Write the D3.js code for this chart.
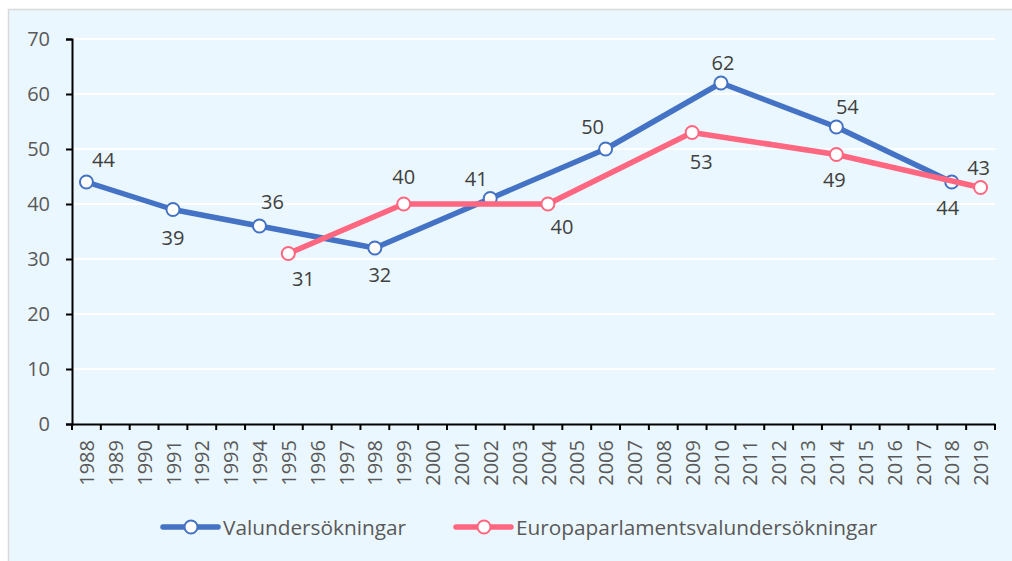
<html>
<head>
  <meta charset="utf-8">
  <script src="https://d3js.org/d3.v7.min.js"></script>
  <style>
    body { margin: 0; background: #fff; }
    text { font-family: "Open Sans", sans-serif; }
  </style>
</head>
<body>
  <div id="chart"></div>
  <script type="text/javascript">

    // data
    var years = d3.range(1988, 2020).map(String);
    var yTicks = [0, 10, 20, 30, 40, 50, 60, 70];
    var seriesNames = ['Valundersökningar', 'Europaparlamentsvalundersökningar'];
    var valYears = ['1988', '1991', '1994', '1998', '2002', '2006', '2010', '2014', '2018'];
    var valValues = [44, 39, 36, 32, 41, 50, 62, 54, 44];
    var euYears = ['1995', '1999', '2004', '2009', '2014', '2019'];
    var euValues = [31, 40, 40, 53, 49, 43];

    // label placement (offset of label centre from its point)
    var valLabelOffsets = [[17, -22], [0, 28], [13, -24], [5, 27], [-14, -20], [-13, -22], [2, -20], [11, -20], [-4, 26]];
    var euLabelOffsets = [[15, 25], [0, -27], [14, 23], [9, 29], [-2, 25], [-2, -20]];

    var colors = ['#4472C4', '#FF6680'];
    var W = 1012, H = 561;
    var plotL = 72, plotR = 995, plotT = 39, plotB = 424;

    var svg = d3.select('#chart').append('svg')
      .attr('width', W)
      .attr('height', H);

    svg.append('rect')
      .attr('x', 8.5).attr('y', 9.5)
      .attr('width', W).attr('height', H)
      .attr('fill', '#EBF7FE')
      .attr('stroke', '#D9D9D9')
      .attr('stroke-width', 1.5);

    var x = d3.scaleBand().domain(years).range([plotL, plotR]);
    var y = d3.scaleLinear().domain([0, 70]).range([plotB, plotT]);

    // gridlines
    svg.append('g')
      .selectAll('line')
      .data(yTicks.filter(function(d) { return d > 0; }))
      .enter().append('line')
        .attr('x1', plotL).attr('x2', plotR)
        .attr('y1', function(d) { return y(d); })
        .attr('y2', function(d) { return y(d); })
        .attr('stroke', '#fff')
        .attr('stroke-width', 2);

    // y axis
    var yAxis = svg.append('g')
      .attr('transform', 'translate(' + plotL + ',0)')
      .call(d3.axisLeft(y).tickValues(yTicks).tickSize(6).tickPadding(16));
    yAxis.select('.domain').attr('stroke', '#000').attr('stroke-width', 2);
    yAxis.selectAll('.tick line').attr('stroke', '#000').attr('stroke-width', 2);
    yAxis.selectAll('.tick text')
      .attr('fill', '#595959')
      .style('font-size', '20px');

    // x axis
    var xAxis = svg.append('g')
      .attr('transform', 'translate(0,' + plotB + ')')
      .call(d3.axisBottom(x).tickSize(0));
    xAxis.select('.domain').attr('stroke', '#000').attr('stroke-width', 2);
    xAxis.selectAll('.tick line').remove();
    xAxis.selectAll('.tick text')
      .attr('fill', '#595959')
      .style('font-size', '20px')
      .attr('transform', 'rotate(-90)')
      .attr('text-anchor', 'end')
      .attr('dy', '0.38em')
      .attr('y', 0)
      .attr('x', -16);

    // ticks at band boundaries
    var bounds = years.map(function(d) { return x(d); }).concat([x(years[years.length - 1]) + x.bandwidth()]);
    svg.append('g')
      .selectAll('line')
      .data(bounds)
      .enter().append('line')
        .attr('x1', function(d) { return d; })
        .attr('x2', function(d) { return d; })
        .attr('y1', plotB).attr('y2', plotB + 6)
        .attr('stroke', '#000')
        .attr('stroke-width', 2);

    function cx(yr) { return x(yr) + x.bandwidth() / 2; }

    function drawSeries(yrs, vals, offs, color) {
      var pts = yrs.map(function(d, i) { return {year: d, value: vals[i], off: offs[i]}; });
      var line = d3.line()
        .x(function(d) { return cx(d.year); })
        .y(function(d) { return y(d.value); });
      svg.append('path')
        .datum(pts)
        .attr('d', line)
        .attr('fill', 'none')
        .attr('stroke', color)
        .attr('stroke-width', 5.5)
        .attr('stroke-linejoin', 'round');
      svg.append('g')
        .selectAll('circle')
        .data(pts)
        .enter().append('circle')
          .attr('cx', function(d) { return cx(d.year); })
          .attr('cy', function(d) { return y(d.value); })
          .attr('r', 6.5)
          .attr('fill', '#fff')
          .attr('stroke', color)
          .attr('stroke-width', 2);
      svg.append('g')
        .selectAll('text')
        .data(pts)
        .enter().append('text')
          .attr('x', function(d) { return cx(d.year) + d.off[0]; })
          .attr('y', function(d) { return y(d.value) + d.off[1]; })
          .attr('text-anchor', 'middle')
          .attr('dy', '0.36em')
          .attr('fill', '#404040')
          .style('font-size', '20px')
          .text(function(d) { return d.value; });
    }

    drawSeries(valYears, valValues, valLabelOffsets, colors[0]);
    drawSeries(euYears, euValues, euLabelOffsets, colors[1]);

    // legend
    var legendX = [163, 456];
    var legendY = 527;
    var legend = svg.append('g')
      .selectAll('g')
      .data(seriesNames)
      .enter().append('g')
        .attr('transform', function(d, i) { return 'translate(' + legendX[i] + ',' + legendY + ')'; });
    legend.append('line')
      .attr('x1', 0).attr('x2', 55)
      .attr('stroke', function(d, i) { return colors[i]; })
      .attr('stroke-width', 5.5)
      .attr('stroke-linecap', 'round');
    legend.append('circle')
      .attr('cx', 28).attr('r', 6.5)
      .attr('fill', '#fff')
      .attr('stroke', function(d, i) { return colors[i]; })
      .attr('stroke-width', 2);
    legend.append('text')
      .attr('x', 60)
      .attr('dy', '0.36em')
      .attr('fill', '#595959')
      .style('font-size', '20.8px')
      .text(function(d) { return d; });

  </script>
</body>
</html>
